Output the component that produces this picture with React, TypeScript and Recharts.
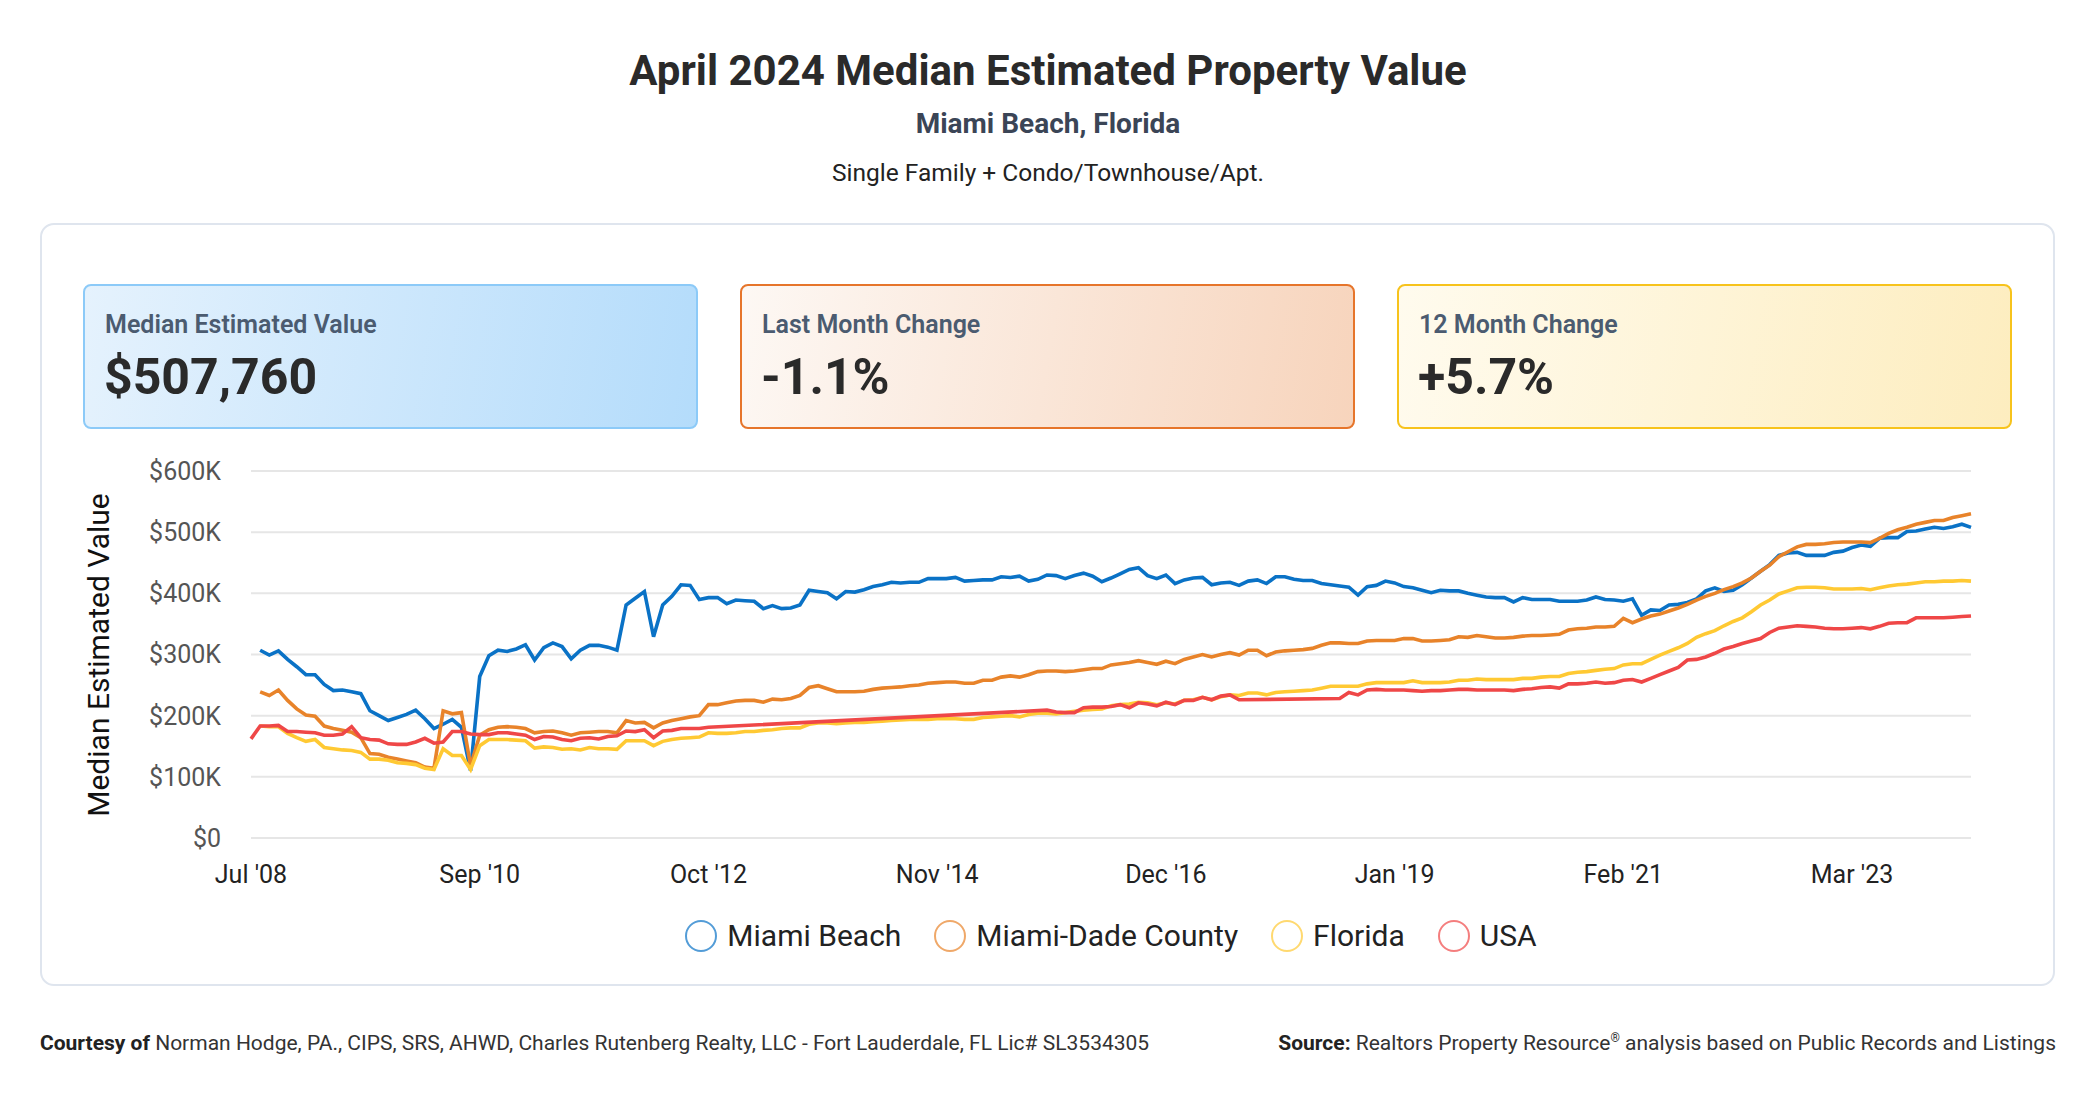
import { CartesianGrid, Line, LineChart, XAxis, YAxis } from "recharts";

// monthly medians in $K, Jul '08 .. Apr '24 (189 points); null = no data
const _ = null;

const MIAMI_BEACH = [
  _, 307, 299, 306, 292, 280, 267, 267, 251, 241,
  242, 239, 236, 208, 200, 192, 197, 202, 209, 195,
  179, 186, 194, 181, 110, 264, 298, 307, 305, 309,
  316, 291, 311, 319, 313, 293, 307, 315, 315, 312,
  307, 381, 392, 403, 329, 381, 395, 414, 413, 390,
  393, 393, 383, 389, 388, 387, 375, 380, 375, 376,
  381, 405, 403, 401, 391, 403, 402, 406, 411, 414,
  418, 417, 418, 418, 424, 424, 424, 426, 420, 421,
  422, 422, 427, 426, 428, 420, 423, 430, 429, 424,
  429, 433, 428, 419, 425, 432, 439, 442, 429, 424,
  430, 416, 422, 425, 426, 414, 417, 418, 413, 420,
  422, 416, 427, 427, 423, 421, 421, 416, 414, 412,
  410, 397, 411, 413, 420, 417, 411, 409, 405, 401,
  405, 404, 404, 400, 397, 394, 393, 393, 386, 393,
  390, 390, 390, 387, 387, 387, 389, 394, 390, 389,
  387, 391, 364, 373, 372, 381, 382, 385, 391, 404,
  409, 403, 405, 414, 425, 436, 447, 462, 466, 467,
  462, 462, 462, 467, 469, 475, 479, 477, 490, 491,
  491, 501, 502, 505, 508, 506, 509, 513, 507.8,
];

const MIAMI_DADE = [
  _, 239, 233, 242, 225, 211, 201, 199, 183, 179,
  176, 173, 164, 138, 137, 132, 129, 126, 123, 116,
  114, 208, 203, 205, 118, 168, 177, 181, 182, 181,
  179, 172, 174, 175, 172, 168, 172, 173, 174, 174,
  172, 192, 188, 189, 180, 188, 192, 195, 198, 200,
  218, 218, 221, 224, 225, 225, 222, 227, 226, 228,
  233, 246, 249, 244, 239, 239, 239, 240, 243, 245,
  246, 247, 249, 250, 253, 254, 255, 255, 253, 253,
  258, 258, 263, 265, 263, 267, 272, 273, 273, 272,
  273, 275, 277, 277, 283, 285, 287, 290, 287, 284,
  289, 285, 292, 296, 300, 296, 300, 303, 299, 307,
  307, 298, 304, 306, 307, 308, 310, 315, 319, 319,
  318, 318, 322, 323, 323, 323, 326, 326, 322, 322,
  323, 324, 329, 328, 331, 329, 327, 327, 328, 330,
  331, 331, 332, 333, 340, 342, 343, 345, 345, 346,
  359, 352, 358, 363, 366, 371, 376, 382, 389, 395,
  400, 406, 411, 417, 425, 436, 446, 460, 468, 476,
  480, 480, 481, 483, 484, 484, 484, 483, 490, 498,
  504, 508, 513, 516, 519, 519, 524, 527, 530,
];

const FLORIDA = [
  _, 183, 182, 182, 171, 164, 158, 161, 148, 146,
  144, 143, 140, 129, 129, 127, 123, 122, 120, 114,
  112, 146, 135, 135, 112, 151, 161, 161, 161, 160,
  159, 147, 149, 148, 145, 146, 144, 148, 146, 146,
  145, 159, 159, 159, 151, 158, 161, 163, 164, 165,
  172, 171, 171, 172, 174, 174, 176, 177, 179, 180,
  180, 186, 188, 188, 187, 188, 189, 189, 190, 191,
  192, 193, 194, 194, 194, 195, 195, 195, 194, 194,
  197, 198, 199, 200, 198, 202, 204, 204, 203, 205,
  207, 209, 210, 211, 216, 218, 219, 222, 221, 218,
  221, 219, 225, 226, 230, 226, 231, 234, 233, 237,
  237, 234, 238, 239, 240, 241, 242, 245, 248, 248,
  248, 248, 252, 254, 254, 254, 254, 257, 254, 254,
  254, 255, 258, 258, 260, 259, 259, 259, 259, 261,
  261, 263, 264, 264, 269, 271, 272, 274, 276, 277,
  283, 285, 285, 292, 299, 305, 311, 318, 328, 334,
  339, 347, 354, 360, 370, 381, 389, 399, 404, 409,
  410, 410, 409, 407, 407, 407, 408, 406, 409, 412,
  414, 415, 417, 419, 419, 420, 420, 421, 420,
];

const USA = [
  162, 183, 183, 184, 174, 174, 173, 172, 168, 168,
  170, 182, 164, 161, 160, 154, 153, 153, 157, 163,
  155, 157, 174, 174, 170, 169, 169, 172, 172, 170,
  168, 161, 166, 165, 161, 159, 163, 164, 162, 166,
  167, 175, 174, 177, 164, 175, 176, 179, 179, 179,
  181, _, _, _, _, _, _, _, _, _,
  _, _, _, _, _, _, _, _, _, _,
  _, _, _, _, _, _, _, _, _, _,
  _, _, _, _, _, _, _, 209, 206, 205,
  205, 213, 214, 214, 215, 218, 213, 221, 219, 216,
  222, 218, 225, 225, 230, 226, 232, 234, 226, _,
  _, _, _, _, _, _, _, _, _, 228,
  238, 234, 242, 243, 242, 242, 242, 241, 240, 241,
  241, 242, 243, 243, 242, 242, 242, 242, 241, 243,
  244, 246, 247, 245, 252, 252, 253, 255, 253, 254,
  258, 259, 255, 261, 267, 273, 279, 291, 292, 296,
  302, 309, 313, 318, 322, 326, 336, 343, 345, 347,
  346, 345, 343, 342, 342, 343, 344, 342, 346, 351,
  352, 352, 360, 360, 360, 360, 361, 362, 363,
];

const TICK_INDEX = [0, 25, 50, 75, 100, 125, 150, 175];
const TICK_LABELS = ["Jul '08", "Sep '10", "Oct '12", "Nov '14", "Dec '16", "Jan '19", "Feb '21", "Mar '23"];
const Y_TICKS = [0, 100, 200, 300, 400, 500, 600];

const SERIES = [
  { key: "mb", name: "Miami Beach", color: "#0a72c6", values: MIAMI_BEACH },
  { key: "md", name: "Miami-Dade County", color: "#e8832a", values: MIAMI_DADE },
  { key: "fl", name: "Florida", color: "#ffc933", values: FLORIDA },
  { key: "us", name: "USA", color: "#ef4747", values: USA },
];

const CARDS = [
  {
    label: "Median Estimated Value",
    value: "$507,760",
    bg: "linear-gradient(100deg, #e5f2fd 0%, #b4dcfb 100%)",
    border: "#8ccaf8",
  },
  {
    label: "Last Month Change",
    value: "-1.1%",
    bg: "linear-gradient(100deg, #fdf8f4 0%, #f7d4bc 100%)",
    border: "#e6752b",
  },
  {
    label: "12 Month Change",
    value: "+5.7%",
    bg: "linear-gradient(100deg, #fffbee 0%, #fdedbf 100%)",
    border: "#f7c31c",
  },
];
const CARD_LEFT = [83, 740, 1397];

const data = MIAMI_BEACH.map((v, i) => {
  const row: Record<string, number | null> = { i };
  SERIES.forEach((s) => {
    row[s.key] = s.values[i];
  });
  return row;
});

const FONT = "Roboto, 'Noto Sans', sans-serif";

// absolute text line centred vertically on cy
function textAt(cy: number, size: number): React.CSSProperties {
  return {
    position: "absolute",
    top: cy - size * 0.49,
    lineHeight: `${size}px`,
    fontSize: size,
    whiteSpace: "nowrap",
  };
}

export default function App() {
  return (
    <div
      style={{
        position: "absolute",
        left: 0,
        top: 0,
        width: 2096,
        height: 1100,
        overflow: "hidden",
        background: "#fff",
        fontFamily: FONT,
      }}
    >
      <div style={{ ...textAt(71, 42), left: 0, width: 2096, textAlign: "center", fontWeight: 700, color: "#2a2a2a" }}>
        April 2024 Median Estimated Property Value
      </div>
      <div style={{ ...textAt(124, 28), left: 0, width: 2096, textAlign: "center", fontWeight: 700, color: "#3b4556" }}>
        Miami Beach, Florida
      </div>
      <div style={{ ...textAt(173, 24.5), left: 0, width: 2096, textAlign: "center", color: "#222" }}>
        Single Family + Condo/Townhouse/Apt.
      </div>

      {/* panel */}
      <div
        style={{
          position: "absolute",
          left: 40,
          top: 223,
          width: 2015,
          height: 763,
          boxSizing: "border-box",
          border: "2px solid #dfe5ee",
          borderRadius: 14,
        }}
      />

      {CARDS.map((c, k) => (
        <div
          key={c.label}
          style={{
            position: "absolute",
            left: CARD_LEFT[k],
            top: 284,
            width: 615,
            height: 145,
            boxSizing: "border-box",
            border: `2px solid ${c.border}`,
            borderRadius: 8,
            background: c.bg,
          }}
        >
          <div style={{ ...textAt(38, 25), left: 20, fontWeight: 600, color: "#4b5b70" }}>{c.label}</div>
          <div style={{ ...textAt(90, 50), left: 19, fontWeight: 700, color: "#2a2a2a" }}>{c.value}</div>
        </div>
      ))}

      <div
        style={{
          position: "absolute",
          left: 99 - 200,
          top: 655 - 18,
          width: 400,
          height: 36,
          lineHeight: "36px",
          fontSize: 30,
          textAlign: "center",
          color: "#111",
          transform: "rotate(-90deg)",
          whiteSpace: "nowrap",
        }}
      >
        Median Estimated Value
      </div>

      <div style={{ position: "absolute", left: 60, top: 440 }}>
        <LineChart
          width={1931}
          height={458}
          data={data}
          margin={{ top: 31, right: 20, bottom: 0, left: 71 }}
          style={{ fontFamily: FONT }}
        >
          <CartesianGrid vertical={false} stroke="#e6e6e6" strokeWidth={2} />
          <XAxis
            dataKey="i"
            type="number"
            domain={[0, 188]}
            ticks={TICK_INDEX}
            tickFormatter={(v: number) => TICK_LABELS[TICK_INDEX.indexOf(v)] ?? ""}
            axisLine={false}
            tickLine={false}
            tickSize={0}
            tickMargin={27}
            height={60}
            interval={0}
            tick={{ fontSize: 25, fill: "#222", fontFamily: FONT }}
          />
          <YAxis
            domain={[0, 600]}
            ticks={Y_TICKS}
            tickFormatter={(v: number) => `$${v}${v === 0 ? "" : "K"}`}
            axisLine={false}
            tickLine={false}
            tickSize={0}
            tickMargin={30}
            width={120}
            interval={0}
            tick={{ fontSize: 25, fill: "#555", fontFamily: FONT }}
          />
          {SERIES.map((s) => (
            <Line
              key={s.key}
              type="linear"
              dataKey={s.key}
              name={s.name}
              stroke={s.color}
              strokeWidth={3.6}
              dot={false}
              activeDot={false}
              connectNulls
              isAnimationActive={false}
            />
          ))}
        </LineChart>
      </div>

      {/* legend */}
      <div
        style={{
          position: "absolute",
          left: 251,
          width: 1720,
          top: 936 - 18,
          height: 36,
          display: "flex",
          justifyContent: "center",
          alignItems: "center",
          gap: 33,
        }}
      >
        {SERIES.map((s) => (
          <div key={s.key} style={{ display: "flex", alignItems: "center", gap: 10 }}>
            <div
              style={{
                width: 32,
                height: 32,
                boxSizing: "border-box",
                borderRadius: "50%",
                border: `2.5px solid ${s.color}`,
                opacity: 0.7,
              }}
            />
            <span style={{ fontSize: 30, color: "#222", lineHeight: "36px" }}>{s.name}</span>
          </div>
        ))}
      </div>

      <div style={{ ...textAt(1043, 21), left: 40, color: "#333" }}>
        <b style={{ color: "#222" }}>Courtesy of</b> Norman Hodge, PA., CIPS, SRS, AHWD, Charles Rutenberg Realty, LLC -
        Fort Lauderdale, FL Lic# SL3534305
      </div>
      <div style={{ ...textAt(1043, 21), right: 2096 - 2056, color: "#333" }}>
        <b style={{ color: "#222" }}>Source:</b> Realtors Property Resource<sup style={{ fontSize: 12, lineHeight: 0 }}>®</sup>{" "}
        analysis based on Public Records and Listings
      </div>
    </div>
  );
}
